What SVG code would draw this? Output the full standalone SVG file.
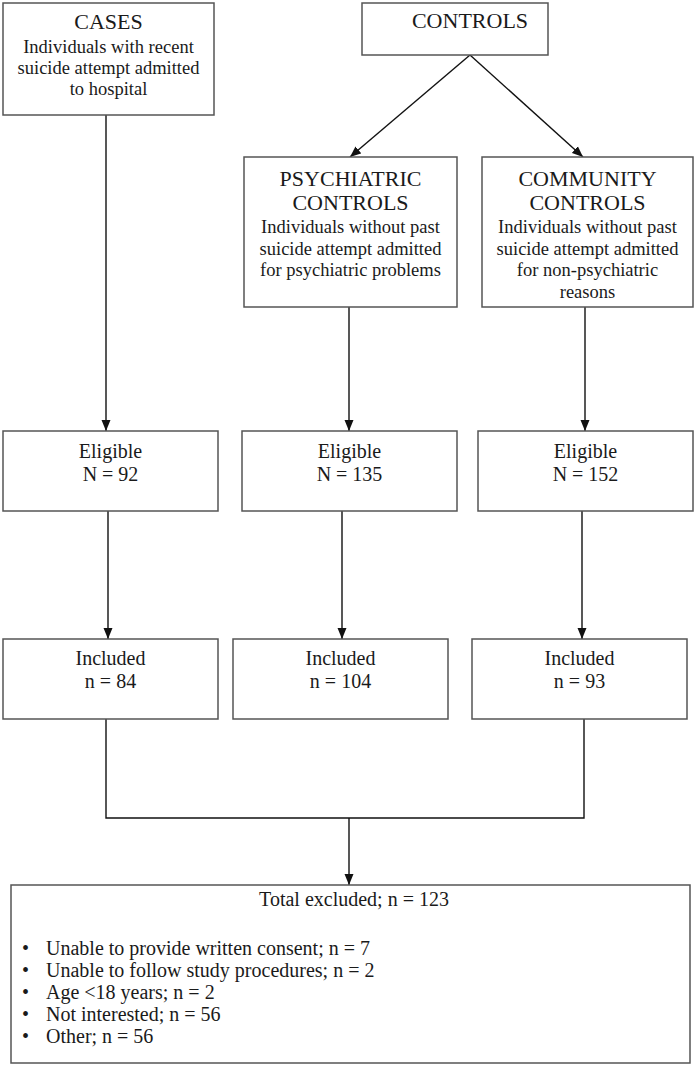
<svg xmlns="http://www.w3.org/2000/svg" width="697" height="1066" viewBox="0 0 697 1066">
<style>
.box{fill:#fff;stroke:#555;stroke-width:1.5}
.t{font-family:"Liberation Serif","Times New Roman",serif;fill:#1a1a1a;text-anchor:middle}
.h{font-size:22px}
.b{font-size:18.5px}
.m{font-size:20px}
.l{font-family:"Liberation Serif","Times New Roman",serif;fill:#1a1a1a;font-size:20px}
.c{fill:none;stroke:#111;stroke-width:1.4}
</style>
<defs>
<marker id="ah" markerUnits="userSpaceOnUse" markerWidth="12" markerHeight="10" refX="11" refY="5" orient="auto">
<path d="M0,0.5 L11,5 L0,9.5 z" fill="#111"/>
</marker>
</defs>
<rect width="697" height="1066" fill="#fff"/>
<g id="connectors">
<line class="c" x1="106" y1="115" x2="106" y2="431" marker-end="url(#ah)"/>
<line class="c" x1="470" y1="55" x2="350" y2="157" marker-end="url(#ah)"/>
<line class="c" x1="470" y1="55" x2="583" y2="157" marker-end="url(#ah)"/>
<line class="c" x1="349" y1="307" x2="349" y2="431" marker-end="url(#ah)"/>
<line class="c" x1="585" y1="307" x2="585" y2="431" marker-end="url(#ah)"/>
<line class="c" x1="108" y1="511" x2="108" y2="639" marker-end="url(#ah)"/>
<line class="c" x1="342" y1="511" x2="342" y2="639" marker-end="url(#ah)"/>
<line class="c" x1="582" y1="511" x2="582" y2="639" marker-end="url(#ah)"/>
<polyline class="c" points="106,719 106,818 584,818 584,719"/>
<line class="c" x1="349" y1="818" x2="349" y2="885" marker-end="url(#ah)"/>
</g>
<g id="cases">
<rect class="box" x="3" y="3" width="211" height="112"/>
<text class="t h" x="108.5" y="29">CASES</text>
<text class="t b" x="108.5" y="53">Individuals with recent</text>
<text class="t b" x="108.5" y="74">suicide attempt admitted</text>
<text class="t b" x="108.5" y="95">to hospital</text>
</g>
<g id="controls">
<rect class="box" x="362" y="3" width="186" height="52"/>
<text class="t h" x="470" y="28">CONTROLS</text>
</g>
<g id="psychiatric">
<rect class="box" x="244" y="157" width="213" height="150"/>
<text class="t h" x="350.5" y="186">PSYCHIATRIC</text>
<text class="t h" x="350.5" y="210">CONTROLS</text>
<text class="t b" x="350.5" y="233">Individuals without past</text>
<text class="t b" x="350.5" y="254.5">suicide attempt admitted</text>
<text class="t b" x="350.5" y="276">for psychiatric problems</text>
</g>
<g id="community">
<rect class="box" x="482" y="157" width="211" height="150"/>
<text class="t h" x="587.5" y="186">COMMUNITY</text>
<text class="t h" x="587.5" y="210">CONTROLS</text>
<text class="t b" x="587.5" y="233">Individuals without past</text>
<text class="t b" x="587.5" y="254.5">suicide attempt admitted</text>
<text class="t b" x="587.5" y="276">for non-psychiatric</text>
<text class="t b" x="587.5" y="297.5">reasons</text>
</g>
<g id="eligible-cases">
<rect class="box" x="3" y="431" width="215" height="80"/>
<text class="t m" x="110.5" y="458">Eligible</text>
<text class="t m" x="110.5" y="481">N = 92</text>
</g>
<g id="eligible-psychiatric">
<rect class="box" x="242" y="431" width="215" height="80"/>
<text class="t m" x="349.5" y="458">Eligible</text>
<text class="t m" x="349.5" y="481">N = 135</text>
</g>
<g id="eligible-community">
<rect class="box" x="478" y="431" width="215" height="80"/>
<text class="t m" x="585.5" y="458">Eligible</text>
<text class="t m" x="585.5" y="481">N = 152</text>
</g>
<g id="included-cases">
<rect class="box" x="3" y="639" width="215" height="80"/>
<text class="t m" x="110.5" y="665">Included</text>
<text class="t m" x="110.5" y="688">n = 84</text>
</g>
<g id="included-psychiatric">
<rect class="box" x="233" y="639" width="215" height="80"/>
<text class="t m" x="340.5" y="665">Included</text>
<text class="t m" x="340.5" y="688">n = 104</text>
</g>
<g id="included-community">
<rect class="box" x="472" y="639" width="215" height="80"/>
<text class="t m" x="579.5" y="665">Included</text>
<text class="t m" x="579.5" y="688">n = 93</text>
</g>
<g id="excluded">
<rect class="box" x="11" y="885" width="679" height="178"/>
<text class="t m" x="354" y="906">Total excluded; n = 123</text>
<text class="l" x="22" y="955">•</text><text class="l" x="46" y="955">Unable to provide written consent; n = 7</text>
<text class="l" x="22" y="977">•</text><text class="l" x="46" y="977">Unable to follow study procedures; n = 2</text>
<text class="l" x="22" y="999">•</text><text class="l" x="46" y="999">Age &lt;18 years; n = 2</text>
<text class="l" x="22" y="1021">•</text><text class="l" x="46" y="1021">Not interested; n = 56</text>
<text class="l" x="22" y="1043">•</text><text class="l" x="46" y="1043">Other; n = 56</text>
</g>
</svg>
